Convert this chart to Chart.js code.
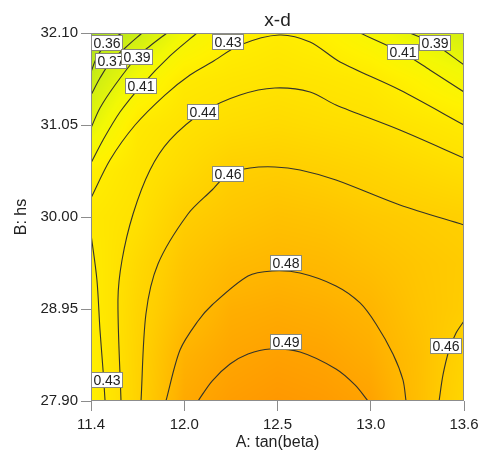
<!DOCTYPE html>
<html>
<head>
<meta charset="utf-8">
<script src="https://cdn.jsdelivr.net/npm/chart.js@4/dist/chart.umd.min.js"></script>
<style>
  html, body { margin: 0; padding: 0; background: #fff; }
</style>
</head>
<body>
<canvas id="chart-xd" width="484" height="452"></canvas>
<script>
// grid of response values (rows bottom -> top)
const xGrid = [11.4, 11.675, 11.95, 12.225, 12.5, 12.775, 13.05, 13.325, 13.6];
const yGrid = [27.9, 28.425, 28.95, 29.475, 30.0, 30.525, 31.05, 31.575, 32.1];
const zGrid = [
  [0.422, 0.456, 0.486, 0.493, 0.496, 0.494, 0.490, 0.473, 0.452],
  [0.424, 0.455, 0.481, 0.488, 0.491, 0.489, 0.484, 0.472, 0.455],
  [0.426, 0.453, 0.472, 0.483, 0.485, 0.483, 0.479, 0.468, 0.461],
  [0.428, 0.449, 0.467, 0.475, 0.478, 0.476, 0.471, 0.466, 0.462],
  [0.432, 0.441, 0.460, 0.466, 0.470, 0.468, 0.464, 0.461, 0.458],
  [0.424, 0.437, 0.448, 0.459, 0.461, 0.458, 0.454, 0.449, 0.444],
  [0.388, 0.431, 0.440, 0.445, 0.448, 0.445, 0.442, 0.436, 0.430],
  [0.366, 0.403, 0.430, 0.435, 0.438, 0.435, 0.431, 0.418, 0.404],
  [0.348, 0.368, 0.400, 0.421, 0.428, 0.421, 0.406, 0.387, 0.375]
];

// contour lines: [A, B]
const line036 = [[11.400, 31.655], [11.435, 31.826], [11.494, 31.986], [11.583, 32.100]];
const line037 = [[11.400, 31.392], [11.453, 31.586], [11.518, 31.780], [11.601, 31.929], [11.701, 32.100]];
const line039 = [[11.400, 31.016], [11.453, 31.244], [11.542, 31.507], [11.671, 31.826], [11.748, 31.952], [11.848, 32.100]];
const line039r = [[13.281, 32.100], [13.417, 31.986], [13.600, 31.735]];
const line041 = [[11.400, 30.616], [11.471, 30.879], [11.571, 31.198], [11.695, 31.495], [11.866, 31.838], [12.025, 32.100]];
const line041r = [[12.987, 32.100], [13.240, 31.872], [13.399, 31.678], [13.600, 31.427]];
const line043 = [[11.400, 30.217], [11.512, 30.651], [11.660, 31.050], [11.836, 31.392], [11.984, 31.621], [12.114, 31.769],
  [12.279, 31.963], [12.509, 32.077], [12.692, 31.997], [12.869, 31.769], [13.222, 31.449], [13.600, 31.050]];
const line043b = [[11.400, 29.806], [11.435, 29.281], [11.453, 28.710], [11.471, 28.254], [11.483, 27.900]];
const line044 = [[11.577, 27.900], [11.559, 29.053], [11.583, 29.509], [11.648, 30.034], [11.748, 30.536], [11.866, 30.879],
  [12.061, 31.198], [12.279, 31.392], [12.485, 31.472], [12.692, 31.427], [12.845, 31.278], [13.222, 30.993], [13.600, 30.673]];
const line046 = [[11.695, 27.900], [11.724, 28.893], [11.795, 29.464], [11.972, 30.034], [12.114, 30.308], [12.208, 30.491],
  [12.338, 30.559], [12.485, 30.571], [12.633, 30.536], [12.845, 30.422], [13.222, 30.137], [13.600, 29.909]];
const line046r = [[13.453, 27.900], [13.476, 28.197], [13.512, 28.482], [13.553, 28.676], [13.600, 28.813]];
const line048 = [[11.842, 27.900], [11.925, 28.482], [12.031, 28.813], [12.114, 28.996], [12.326, 29.327], [12.468, 29.384],
  [12.633, 29.361], [12.845, 29.213], [12.987, 29.019], [13.081, 28.779], [13.181, 28.437], [13.240, 28.140], [13.258, 27.900]];
const line049 = [[12.031, 27.900], [12.114, 28.128], [12.220, 28.322], [12.326, 28.437], [12.456, 28.494], [12.633, 28.459],
  [12.845, 28.265], [12.957, 28.083], [13.034, 27.900]];

// contour labels
const labelText = ['0.36', '0.37', '0.39', '0.41', '0.43', '0.44', '0.46', '0.48', '0.49', '0.46', '0.43', '0.39', '0.41'];
const labelX = [11.494, 11.518, 11.671, 11.695, 12.208, 12.061, 12.208, 12.550, 12.550, 13.494, 11.494, 13.429, 13.240];
const labelY = [31.986, 31.780, 31.826, 31.495, 31.997, 31.198, 30.491, 29.475, 28.573, 28.528, 28.140, 31.986, 31.883];

// axis ticks
const xTicks = [11.4, 11.95, 12.5, 13.05, 13.6];
const xTickLabels = ['11.4', '12.0', '12.5', '13.0', '13.6'];
const yTicks = [27.90, 28.95, 30.00, 31.05, 32.10];
const yTickLabels = ['27.90', '28.95', '30.00', '31.05', '32.10'];

const colorStops = [
  [0.345, [160, 222, 35]], [0.37, [205, 238, 20]], [0.40, [242, 248, 5]], [0.42, [255, 242, 0]],
  [0.44, [255, 226, 0]], [0.46, [255, 206, 0]], [0.48, [255, 180, 0]], [0.497, [255, 150, 0]]
];

function colorFor(z) {
  if (z <= colorStops[0][0]) return colorStops[0][1];
  for (let i = 1; i < colorStops.length; i++) {
    if (z <= colorStops[i][0]) {
      const [z0, c0] = colorStops[i - 1], [z1, c1] = colorStops[i];
      const t = (z - z0) / (z1 - z0);
      return c0.map((v, k) => v + (c1[k] - v) * t);
    }
  }
  return colorStops[colorStops.length - 1][1];
}

function cellIndex(arr, v) {
  for (let i = 0; i < arr.length - 2; i++) if (v <= arr[i + 1]) return i;
  return arr.length - 2;
}

function surfaceAt(xv, yv) {
  const i = cellIndex(xGrid, xv), j = cellIndex(yGrid, yv);
  const tx = Math.min(1, Math.max(0, (xv - xGrid[i]) / (xGrid[i + 1] - xGrid[i])));
  const ty = Math.min(1, Math.max(0, (yv - yGrid[j]) / (yGrid[j + 1] - yGrid[j])));
  const a = zGrid[j][i], b = zGrid[j][i + 1], c = zGrid[j + 1][i], d = zGrid[j + 1][i + 1];
  return (a * (1 - tx) + b * tx) * (1 - ty) + (c * (1 - tx) + d * tx) * ty;
}

const surface = {
  id: 'surface',
  beforeDatasetsDraw(chart) {
    const {ctx, chartArea: a, scales: {x, y}} = chart;
    const dpr = chart.currentDevicePixelRatio || 1;
    const w = Math.round((a.right - a.left) * dpr), h = Math.round((a.bottom - a.top) * dpr);
    const img = ctx.createImageData(w, h);
    for (let j = 0; j < h; j++) {
      const yv = y.getValueForPixel(a.top + (j + 0.5) / dpr);
      for (let i = 0; i < w; i++) {
        const xv = x.getValueForPixel(a.left + (i + 0.5) / dpr);
        const c = colorFor(surfaceAt(xv, yv));
        const p = (j * w + i) * 4;
        img.data[p] = c[0]; img.data[p + 1] = c[1]; img.data[p + 2] = c[2]; img.data[p + 3] = 255;
      }
    }
    ctx.putImageData(img, Math.round(a.left * dpr), Math.round(a.top * dpr));
  },
  afterDatasetsDraw(chart) {
    const {ctx, chartArea: a, scales: {x, y}} = chart;
    ctx.save();
    ctx.beginPath();
    ctx.rect(a.left, a.top, a.right - a.left, a.bottom - a.top);
    ctx.clip();
    ctx.font = '14px Arial, "Liberation Sans", sans-serif';
    ctx.textAlign = 'center';
    ctx.textBaseline = 'middle';
    labelText.forEach((t, i) => {
      const px = Math.round(x.getPixelForValue(labelX[i]));
      const py = Math.round(y.getPixelForValue(labelY[i]));
      const w = Math.round(ctx.measureText(t).width + 5), h = 16;
      const bx = px - Math.round(w / 2), by = py - h / 2;
      ctx.fillStyle = '#fff';
      ctx.fillRect(bx, by, w, h);
      ctx.strokeStyle = '#8a8a7a';
      ctx.lineWidth = 1;
      ctx.strokeRect(bx + 0.5, by + 0.5, w - 1, h - 1);
      ctx.fillStyle = '#222';
      ctx.fillText(t, px, py + 1);
    });
    ctx.restore();
    ctx.save();
    ctx.strokeStyle = '#8c8c8c';
    ctx.lineWidth = 1;
    ctx.strokeRect(Math.round(a.left) + 0.5, Math.round(a.top) + 0.5, Math.round(a.right - a.left) - 1, Math.round(a.bottom - a.top) - 1);
    ctx.restore();
  },
  afterDraw(chart) {
    const {ctx, chartArea: a} = chart;
    ctx.save();
    ctx.font = '19px Arial, "Liberation Sans", sans-serif';
    ctx.fillStyle = '#222';
    ctx.textAlign = 'center';
    ctx.textBaseline = 'alphabetic';
    ctx.fillText('x-d', (a.left + a.right) / 2, 26);
    ctx.restore();
  }
};

const contours = [line036, line037, line039, line039r, line041, line041r, line043, line043b,
  line044, line046, line046r, line048, line049];

Chart.defaults.font.family = 'Arial, "Liberation Sans", sans-serif';

new Chart(document.getElementById('chart-xd').getContext('2d'), {
  type: 'scatter',
  data: {
    datasets: contours.map(pts => ({
      data: pts.map(p => ({x: p[0], y: p[1]})),
      showLine: true,
      borderColor: '#34342a',
      borderWidth: 1.1,
      pointRadius: 0,
      tension: 0.3
    }))
  },
  options: {
    responsive: false,
    animation: false,
    layout: { padding: { top: 33, right: 20, left: 0, bottom: 0 } },
    plugins: { legend: { display: false }, tooltip: { enabled: false } },
    scales: {
      x: {
        type: 'linear', min: 11.4, max: 13.6,
        afterBuildTicks: s => { s.ticks = xTicks.map(v => ({ value: v })); },
        afterFit: s => { s.height = 51; },
        ticks: { callback: (v, i) => xTickLabels[i], font: { size: 15 }, color: '#222', padding: 5, maxRotation: 0, autoSkip: false },
        grid: { drawOnChartArea: false, tickLength: 10, color: '#8c8c8c' },
        border: { display: false },
        title: { display: true, text: 'A: tan(beta)', font: { size: 16 }, color: '#222', padding: { top: 0, bottom: 0 } }
      },
      y: {
        type: 'linear', min: 27.9, max: 32.1,
        afterBuildTicks: s => { s.ticks = yTicks.map(v => ({ value: v })); },
        afterFit: s => { s.width = 91; },
        ticks: { callback: (v, i) => yTickLabels[i], font: { size: 15 }, color: '#222', padding: 3, autoSkip: false },
        grid: { drawOnChartArea: false, tickLength: 10, color: '#8c8c8c' },
        border: { display: false },
        title: { display: true, text: 'B: hs', font: { size: 16 }, color: '#222', padding: { top: 12, bottom: 0 } }
      }
    }
  },
  plugins: [surface]
});
</script>
</body>
</html>
